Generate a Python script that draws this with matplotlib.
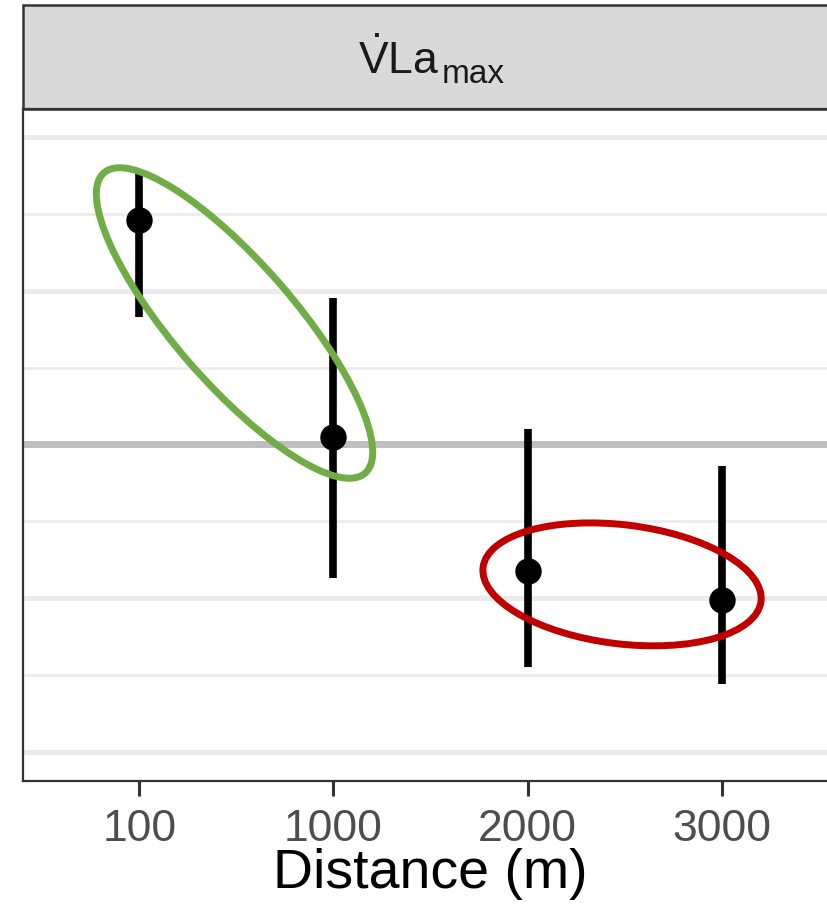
import matplotlib
matplotlib.use("Agg")
import matplotlib.pyplot as plt
import matplotlib.transforms as mtransforms
from matplotlib.patches import Ellipse, Rectangle

plt.rcParams["font.family"] = ["Liberation Sans", "DejaVu Sans"]
plt.rcParams["mathtext.fontset"] = "custom"
plt.rcParams["mathtext.rm"] = "Liberation Sans"

# data (standardised units)
distances = ["100", "1000", "2000", "3000"]
means = [1.46, 0.05, -0.82, -1.01]
lower = [0.83, -0.87, -1.45, -1.56]
upper = [1.77, 0.95, 0.10, -0.14]

major_breaks = [-2, -1, 0, 1, 2]
minor_breaks = [-1.5, -0.5, 0.5, 1.5]

# highlight ellipses: centre (category index, value), size in px, angle
groups = [
    {"centre": (0.49, 0.79), "size": (398, 120), "angle": -49, "color": "#70ad47"},
    {"centre": (2.487, -0.91), "size": (280, 119), "angle": -7, "color": "#c00000"},
]

fig = plt.figure(figsize=(8.28, 9.15), dpi=100)
ax = fig.add_axes([23 / 828, 134 / 915, 815 / 828, 672 / 915])

ax.set_xlim(-0.6, 3.6)
ax.set_ylim(-2.189, 2.182)

for b in major_breaks:
    ax.axhline(b, color="#ebebeb", lw=3.6, zorder=0)
for b in minor_breaks:
    ax.axhline(b, color="#ebebeb", lw=1.8, zorder=0)
ax.axhline(0, color="#bebebe", lw=5, zorder=1)

x = list(range(len(distances)))
ax.vlines(x, lower, upper, color="black", lw=5.5, zorder=3, capstyle="butt")
ax.plot(x, means, "o", color="black", ms=18, zorder=4)

px = fig.dpi / 100
for g in groups:
    tr = mtransforms.Affine2D().scale(px) + mtransforms.ScaledTranslation(
        g["centre"][0], g["centre"][1], ax.transData)
    e = Ellipse((0, 0), g["size"][0], g["size"][1], angle=g["angle"],
                fill=False, edgecolor=g["color"], lw=5, transform=tr, zorder=5)
    ax.add_patch(e)

ax.set_xticks(x)
ax.set_xticklabels(distances)
ax.set_yticks([])
ax.tick_params(axis="x", length=11, width=2.2, color="#333333",
               labelsize=32, labelcolor="#4d4d4d", pad=9)
for s in ax.spines.values():
    s.set_color("#333333")
    s.set_linewidth(1.6)
ax.set_xlabel("Distance (m)", fontsize=40, color="black", labelpad=-1)

# facet strip
strip_h = 104 / 672
ax.add_patch(Rectangle((0, 1), 1, strip_h, transform=ax.transAxes,
                       facecolor="#d9d9d9", edgecolor="#333333", lw=1.8,
                       clip_on=False, zorder=2))
fig.text(439 / 828, 1 - 74 / 915, r"$\dot{\mathrm{V}}$La", ha="right",
         va="baseline", fontsize=32, color="#1a1a1a")
fig.text(442 / 828, 1 - 83 / 915, "max", ha="left", va="baseline",
         fontsize=24, color="#1a1a1a")

fig.savefig("out.png", dpi=100)
